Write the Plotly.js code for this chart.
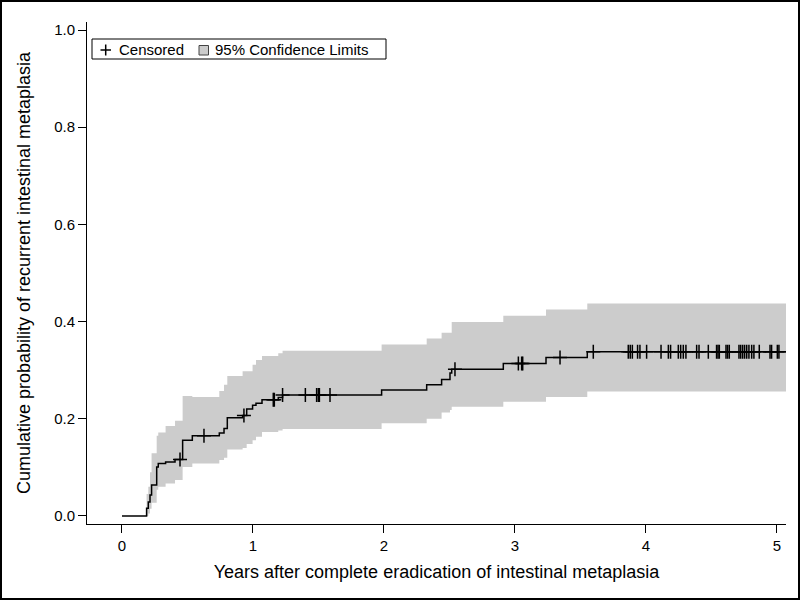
<!DOCTYPE html>
<html>
<head>
<meta charset="utf-8">
<script src="https://cdn.plot.ly/plotly-3.0.1.min.js"></script>
<style>
  html, body { margin: 0; padding: 0; background: #fff; }
  #chart { width: 800px; height: 600px; position: absolute; left: 0; top: 0; }
  #frame { position: absolute; left: 0; top: 0; width: 800px; height: 600px; box-sizing: border-box; border: 2px solid #000; pointer-events: none; z-index: 10; }
</style>
</head>
<body>
<div id="chart"></div>
<div id="frame"></div>
<script>
// Kaplan-Meier cumulative incidence (step change points)
const kmTimes = [0, 0.188, 0.201, 0.214, 0.226, 0.265, 0.277, 0.333, 0.405, 0.463, 0.537, 0.743, 0.779, 0.804, 0.921, 0.952, 0.997, 1.023, 1.069, 1.193, 1.226, 1.982, 2.326, 2.44, 2.504, 2.517, 2.911, 3.237, 3.552, 5.069];
const kmProb  = [0, 0.016, 0.029, 0.043, 0.064, 0.101, 0.108, 0.111, 0.116, 0.156, 0.165, 0.171, 0.180, 0.202, 0.207, 0.220, 0.228, 0.232, 0.239, 0.244, 0.249, 0.259, 0.270, 0.281, 0.294, 0.302, 0.314, 0.326, 0.338, 0.338];

// 95% confidence limits (step change points)
const ciTimes = [0.188, 0.201, 0.214, 0.226, 0.265, 0.277, 0.333, 0.405, 0.463, 0.537, 0.743, 0.779, 0.804, 0.921, 0.952, 0.997, 1.023, 1.069, 1.193, 1.226, 1.982, 2.326, 2.44, 2.504, 2.517, 2.911, 3.237, 3.552, 5.069];
const ciUpper = [0.045, 0.060, 0.090, 0.129, 0.165, 0.172, 0.185, 0.196, 0.247, 0.245, 0.257, 0.270, 0.288, 0.298, 0.298, 0.311, 0.321, 0.329, 0.335, 0.340, 0.353, 0.365, 0.377, 0.377, 0.399, 0.412, 0.425, 0.437, 0.437];
const ciLower = [0.000, 0.005, 0.015, 0.027, 0.054, 0.060, 0.067, 0.074, 0.101, 0.108, 0.115, 0.120, 0.137, 0.140, 0.148, 0.156, 0.163, 0.173, 0.176, 0.179, 0.191, 0.200, 0.213, 0.218, 0.225, 0.235, 0.245, 0.256, 0.256];

// Censoring times
const censorTimes = [0.443, 0.626, 0.931, 1.155, 1.163, 1.226, 1.40, 1.486, 1.499, 1.507, 1.588, 2.542, 3.026, 3.051, 3.059, 3.344, 3.598,
  3.865, 3.880, 3.896, 3.936, 3.954, 4.005, 4.115, 4.171, 4.188, 4.247, 4.265, 4.285, 4.305, 4.387, 4.405, 4.476,
  4.539, 4.550, 4.560, 4.611, 4.623, 4.636, 4.710, 4.723, 4.738, 4.753, 4.769, 4.786, 4.807, 4.824, 4.865, 4.947, 4.959, 5.003, 5.015];

const xTicks = [0, 1, 2, 3, 4, 5];
const yTicks = [0, 0.2, 0.4, 0.6, 0.8, 1.0];
const legendLabels = ['Censored', '95% Confidence Limits'];

function stepValue(t) {
  let v = kmProb[0];
  for (let i = 0; i < kmTimes.length; i++) { if (kmTimes[i] <= t) v = kmProb[i]; }
  return v;
}
const censorProb = censorTimes.map(stepValue);

const font = 'Liberation Sans, Arial, Helvetica, sans-serif';
const bandColor = '#cccccc';

const traces = [
  { x: ciTimes, y: ciLower, mode: 'lines', line: { shape: 'hv', width: 0, color: bandColor },
    showlegend: false, hoverinfo: 'skip' },
  { x: ciTimes, y: ciUpper, mode: 'lines', line: { shape: 'hv', width: 0, color: bandColor },
    fill: 'tonexty', fillcolor: bandColor, name: legendLabels[1], showlegend: false },
  { x: kmTimes, y: kmProb, mode: 'lines', line: { shape: 'hv', width: 1.5, color: '#000' },
    showlegend: false },
  { x: censorTimes, y: censorProb, mode: 'markers', name: legendLabels[0], showlegend: false,
    marker: { symbol: 'cross-thin', size: 10, color: '#000', line: { width: 1.5, color: '#000' } } }
];

// Legend drawn in pixel space, converted to paper coordinates
const M = { l: 87, r: 14, t: 22, b: 76 };
const W = 800, H = 600;
const pw = W - M.l - M.r, ph = H - M.t - M.b;
const px = v => (v - M.l) / pw;
const py = v => (H - M.b - v) / ph;

const shapes = [
  { type: 'rect', xref: 'paper', yref: 'paper', x0: px(92), x1: px(386), y0: py(59), y1: py(39),
    line: { color: '#000', width: 1 }, fillcolor: '#fff', layer: 'above' },
  { type: 'line', xref: 'paper', yref: 'paper', x0: px(100.5), x1: px(111), y0: py(50), y1: py(50),
    line: { color: '#000', width: 1.5 }, layer: 'above' },
  { type: 'line', xref: 'paper', yref: 'paper', x0: px(105.7), x1: px(105.7), y0: py(44.5), y1: py(55.5),
    line: { color: '#000', width: 1.5 }, layer: 'above' },
  { type: 'rect', xref: 'paper', yref: 'paper', x0: px(199), x1: px(208.5), y0: py(55), y1: py(45.5),
    line: { color: '#444', width: 1 }, fillcolor: bandColor, layer: 'above' }
];

const annotations = [
  { xref: 'paper', yref: 'paper', x: px(117), y: py(49.5), xanchor: 'left', yanchor: 'middle',
    text: legendLabels[0], showarrow: false, font: { size: 15, family: font, color: '#000' } },
  { xref: 'paper', yref: 'paper', x: px(213), y: py(49.5), xanchor: 'left', yanchor: 'middle',
    text: legendLabels[1], showarrow: false, font: { size: 15, family: font, color: '#000' } }
];

const layout = {
  width: W, height: H,
  margin: M,
  paper_bgcolor: '#fff', plot_bgcolor: '#fff',
  font: { family: font, size: 15, color: '#000' },
  showlegend: false,
  shapes: shapes,
  annotations: annotations,
  xaxis: {
    range: [-0.267, 5.069], tickvals: xTicks, ticktext: xTicks.map(String),
    ticks: 'outside', ticklen: 8, tickwidth: 1, tickcolor: '#000',
    showline: true, linecolor: '#000', linewidth: 1, showgrid: false, zeroline: false,
    tickfont: { size: 15, family: font },
    title: { text: 'Years after complete eradication of intestinal metaplasia', font: { size: 18, family: font }, standoff: 12 }
  },
  yaxis: {
    range: [-0.0165, 1.0165], tickvals: yTicks, tickformat: '.1f',
    ticks: 'outside', ticklen: 8, tickwidth: 1, tickcolor: '#000',
    showline: true, linecolor: '#000', linewidth: 1, showgrid: false, zeroline: false,
    tickfont: { size: 15, family: font },
    title: { text: 'Cumulative probability of recurrent intestinal metaplasia', font: { size: 18, family: font }, standoff: 18 }
  }
};

Plotly.newPlot('chart', traces, layout, { displayModeBar: false, staticPlot: true });
</script>
</body>
</html>
